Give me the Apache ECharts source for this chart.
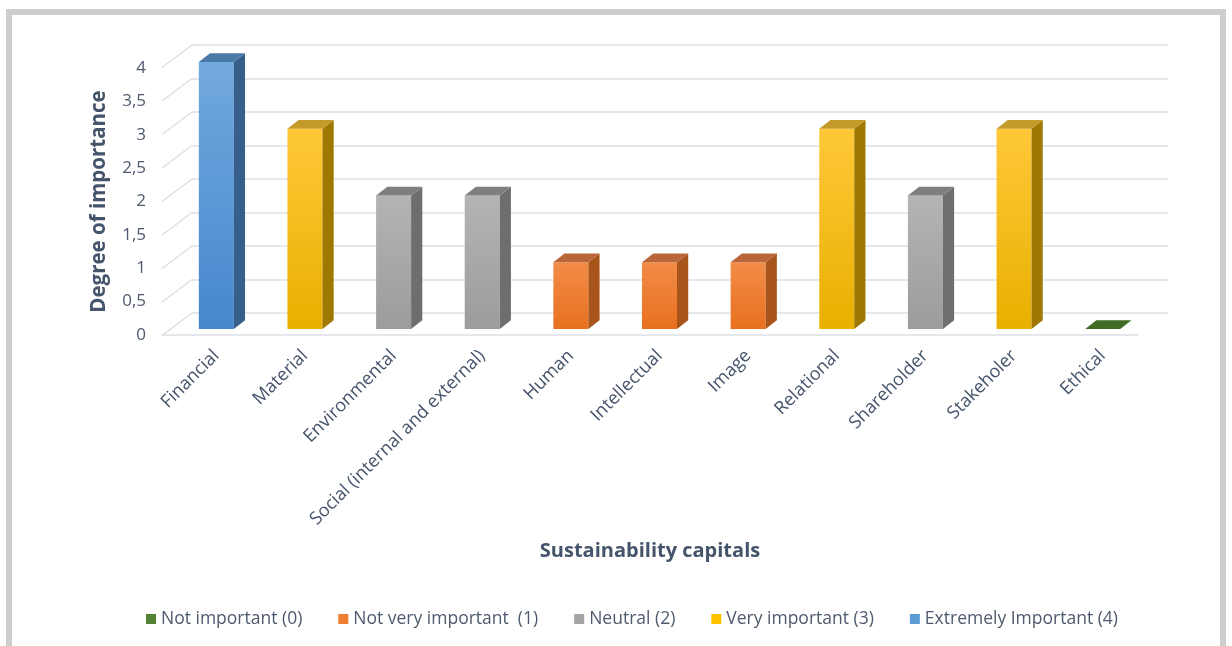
<!DOCTYPE html>
<html>
<head>
<meta charset="utf-8">
<script src="https://cdn.jsdelivr.net/npm/echarts@6/dist/echarts.min.js"></script>
<style>
html,body{margin:0;padding:0;background:#fff;}
#chart{width:1232px;height:646px;}
</style>
</head>
<body>
<div id="chart"></div>
<script>
// ---- data ----
const categories = ['Financial','Material','Environmental','Social (internal and external)','Human','Intellectual','Image','Relational','Shareholder','Stakeholer','Ethical'];
const values = [4, 3, 2, 2, 1, 1, 1, 3, 2, 3, 0];
const levelNames = ['Not important (0)','Not very important  (1)','Neutral (2)','Very important (3)','Extremely Important (4)'];
const levelValues = [0, 1, 2, 3, 4];
const yTicks = [0, 0.5, 1, 1.5, 2, 2.5, 3, 3.5, 4];
const yTickLabels = ['0','0,5','1','1,5','2','2,5','3','3,5','4'];

// ---- styles ----
const palettes = [
  {legend:'#548235', front:['#5E8E3A','#4A7A2A'], side:'#355E1C', top:'#3F6B25'},
  {legend:'#ED7D31', front:['#F28C48','#E8701F'], side:'#A8541A', top:'#B9673A'},
  {legend:'#A5A5A5', front:['#B4B4B4','#9C9C9C'], side:'#6E6E6E', top:'#7F7F7F'},
  {legend:'#FFC000', front:['#FFC838','#E8B000'], side:'#9E7800', top:'#C49A2A'},
  {legend:'#5B9BD5', front:['#72A9DE','#4587CD'], side:'#365F8C', top:'#4C7AA8'}
];
const gridColor = '#DCDFE5';
const textColor = '#4F5A6E';
const titleColor = '#44546A';
const font = 'Open Sans';

function renderBar(pal) {
  return function(params, api) {
    const idx = api.value(0), v = api.value(1);
    const top = api.coord([idx, v]);
    const base = api.coord([idx, 0]);
    const band = api.size([1, 0])[0];
    const w = band * 0.395;
    const dx = w * 0.32, dy = -w * 0.25;
    const x0 = top[0] - w / 2, x1 = top[0] + w / 2;
    const yt = top[1], yb = base[1];
    const children = [];
    if (yb - yt > 0.5) {
      children.push({type:'rect', shape:{x:x0, y:yt, width:w, height:yb-yt},
        style:{fill:new echarts.graphic.LinearGradient(0,0,0,1,[{offset:0,color:pal.front[0]},{offset:1,color:pal.front[1]}])}});
      children.push({type:'polygon', shape:{points:[[x1,yt],[x1+dx,yt+dy],[x1+dx,yb+dy],[x1,yb]]},
        style:{fill:pal.side}});
    }
    children.push({type:'polygon', shape:{points:[[x0,yt],[x0+dx,yt+dy],[x1+dx,yt+dy],[x1,yt]]},
      style:{fill:pal.top}});
    return {type:'group', children};
  };
}

const barSeries = levelValues.map((lv, k) => ({
  name: levelNames[k],
  type: 'custom',
  xAxisIndex: 0, yAxisIndex: 0,
  itemStyle: {color: palettes[k].legend},
  renderItem: renderBar(palettes[k]),
  encode: {x: 0, y: 1},
  z: 5,
  data: values.map((v, i) => v === lv ? [i, v] : null).filter(d => d)
}));

const diagSeries = {
  name: 'diag', type: 'custom', xAxisIndex: 1, yAxisIndex: 1, silent: true, z: 1,
  renderItem: function(params, api) {
    const p = api.coord([0, api.value(0)]);
    return {type:'line', shape:{x1:p[0], y1:p[1], x2:p[0]-30, y2:p[1]+22.5},
      style:{stroke:gridColor, lineWidth:1.5}};
  },
  data: yTicks.map(t => [t])
};

const option = {
  animation: false,
  backgroundColor: '#ffffff',
  textStyle: {fontFamily: font},
  grid: [
    {left:172, right:85, top:62, bottom:317},
    {left:192, right:64, top:45, bottom:333},
    {left:162, right:94, top:68, bottom:311}
  ],
  xAxis: [
    {gridIndex:0, type:'category', data:categories,
      axisLine:{show:false}, axisTick:{show:false},
      axisLabel:{interval:0, rotate:45, margin:24, color:titleColor, fontSize:18, fontFamily:font}},
    {gridIndex:1, type:'value', min:0, max:1, show:false},
    {gridIndex:2, type:'value', min:0, max:1,
      axisLine:{show:true, lineStyle:{color:gridColor, width:1.5}},
      axisTick:{show:false}, axisLabel:{show:false}, splitLine:{show:false}}
  ],
  yAxis: [
    {gridIndex:0, type:'value', min:0, max:4, interval:0.5, show:false},
    {gridIndex:1, type:'value', min:0, max:4, interval:0.5,
      axisLine:{show:false}, axisTick:{show:false}, axisLabel:{show:false},
      splitLine:{show:true, lineStyle:{color:gridColor, width:1.5}}},
    {gridIndex:2, type:'value', min:0, max:4, interval:0.5,
      axisLine:{show:false}, axisTick:{show:false}, splitLine:{show:false},
      axisLabel:{margin:16, color:textColor, fontSize:17, fontFamily:font,
        formatter: v => yTickLabels[yTicks.indexOf(v)]},
      name:'Degree of importance', nameLocation:'middle', nameGap:52,
      nameTextStyle:{color:titleColor, fontSize:20.5, fontWeight:'bold', fontFamily:font}}
  ],
  legend: {
    data: levelNames, left:141, top:605, itemGap:36, itemWidth:10, itemHeight:10,
    icon:'rect', textStyle:{color:textColor, fontSize:17.5, fontFamily:font}
  },
  graphic: [
    {type:'rect', shape:{x:9, y:12, width:1214, height:700}, style:{fill:'none', stroke:'#CDCDCD', lineWidth:6}, z:-1},
    {type:'text', x:650, y:551, style:{text:'Sustainability capitals', fill:titleColor, font:'bold 20px "Open Sans"', textAlign:'center', textVerticalAlign:'middle'}}
  ],
  series: [diagSeries].concat(barSeries)
};

const chart = echarts.init(document.getElementById('chart'), null, {renderer:'canvas'});
chart.setOption(option);
</script>
</body>
</html>
